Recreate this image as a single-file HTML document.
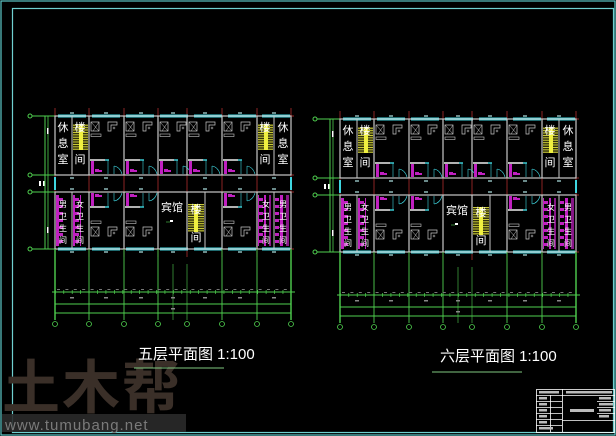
<!DOCTYPE html>
<html><head><meta charset="utf-8">
<style>
html,body{margin:0;padding:0;background:#000;}
svg{display:block;}
text{font-family:"Liberation Sans","Noto Sans CJK SC",sans-serif;}
</style></head>
<body>
<svg width="616" height="436" viewBox="0 0 616 436" xmlns="http://www.w3.org/2000/svg" xmlns:xlink="http://www.w3.org/1999/xlink">
<defs>
<pattern id="st" width="4" height="2.4" patternUnits="userSpaceOnUse"><rect width="4" height="2.4" fill="rgba(240,240,64,0.2)"/><line x1="0" y1="0.4" x2="4" y2="0.4" stroke="#f0f040" stroke-width="0.8"/></pattern>
<pattern id="tl" width="8" height="7" patternUnits="userSpaceOnUse"><rect x="0" y="0" width="3" height="7" fill="#c020c0"/><rect x="3" y="2" width="4" height="3" fill="#c020c0"/></pattern>

<g id="rt" fill="none">
<rect x="2" y="161" width="3" height="13" fill="#c020c0"/>
<rect x="6" y="169" width="4" height="3" fill="#c020c0"/><rect x="10" y="170" width="3" height="2" fill="#c020c0"/>
<line x1="1" y1="160" x2="16" y2="160" stroke="#fff" stroke-width="1.4"/>
<line x1="16" y1="160" x2="20" y2="160" stroke="#3fd6e0" stroke-width="1.4"/>
<line x1="19" y1="160" x2="19" y2="174" stroke="#3fd6e0" stroke-width="0.6"/>
<path d="M33,174 q-2,-7 -8,-8 M25,174 l0,-8" stroke="#3fd6e0" stroke-width="0.6"/>
<rect x="2" y="122" width="8" height="9" stroke="#c8c8c8" stroke-width="0.7"/>
<path d="M2,122 L10,131 M10,122 L4,131" stroke="#c8c8c8" stroke-width="0.5"/>
<path d="M19,131 v-9 h9 v3 h-6 v6 z" stroke="#c8c8c8" stroke-width="0.7"/>
<circle cx="25" cy="128" r="1" stroke="#c8c8c8" stroke-width="0.5"/>
<rect x="2" y="134" width="10" height="2.5" stroke="#c8c8c8" stroke-width="0.6"/>
</g>
<g id="rb" fill="none">
<rect x="2" y="193" width="3" height="13" fill="#c020c0"/>
<rect x="6" y="194" width="4" height="3" fill="#c020c0"/><rect x="10" y="195" width="3" height="2" fill="#c020c0"/>
<line x1="1" y1="207" x2="16" y2="207" stroke="#fff" stroke-width="1.4"/>
<line x1="16" y1="207" x2="20" y2="207" stroke="#3fd6e0" stroke-width="1.4"/>
<line x1="19" y1="193" x2="19" y2="207" stroke="#3fd6e0" stroke-width="0.6"/>
<path d="M33,193 q-2,7 -8,8 M25,193 l0,8" stroke="#3fd6e0" stroke-width="0.6"/>
<rect x="2" y="227" width="8" height="9" stroke="#c8c8c8" stroke-width="0.7"/>
<path d="M2,227 L10,236 M10,227 L4,236" stroke="#c8c8c8" stroke-width="0.5"/>
<path d="M19,236 v-9 h9 v3 h-6 v6 z" stroke="#c8c8c8" stroke-width="0.7"/>
<circle cx="25" cy="233" r="1" stroke="#c8c8c8" stroke-width="0.5"/>
<rect x="2" y="221" width="10" height="2.5" stroke="#c8c8c8" stroke-width="0.6"/>
</g>

<g id="plan">
<!-- green axis extensions -->
<g stroke="#4fd04f" fill="none" stroke-width="1">
<line x1="32" y1="116" x2="55" y2="116"/><line x1="32" y1="175" x2="55" y2="175"/>
<line x1="32" y1="192" x2="55" y2="192"/><line x1="32" y1="249" x2="55" y2="249"/>
<circle cx="30" cy="116" r="2"/><circle cx="30" cy="175" r="2"/><circle cx="30" cy="192" r="2"/><circle cx="30" cy="249" r="2"/>
<line x1="45" y1="116" x2="45" y2="249"/><line x1="48" y1="116" x2="48" y2="249" stroke-width="0.8"/>
</g>
<g fill="#fff"><rect x="47" y="128" width="1.5" height="6"/><rect x="47" y="227" width="1.5" height="6"/><rect x="39" y="181" width="2" height="5"/><rect x="43" y="181" width="1.5" height="5"/></g>
<!-- red axes -->
<g stroke="#c83232" stroke-width="0.7">
<line x1="55" y1="116" x2="294" y2="116"/><line x1="55" y1="175" x2="294" y2="175"/>
<line x1="55" y1="192" x2="294" y2="192"/><line x1="55" y1="249" x2="294" y2="249"/>
<path d="M55,108V257M89,108V257M124,108V257M158,108V257M187,108V257M222,108V257M257,108V257M291,108V257"/>
</g>
<!-- windows -->
<g stroke="#3fd6e0" stroke-width="3" stroke-dasharray="28 6">
<line x1="58" y1="116" x2="291" y2="116"/><line x1="58" y1="249" x2="291" y2="249"/>
</g>
<rect x="54" y="177" width="2" height="13" fill="#3fd6e0"/><rect x="290" y="177" width="2" height="13" fill="#3fd6e0"/>
<!-- walls -->
<g stroke="#c8c8c8" stroke-width="1.2" fill="none">
<rect x="55" y="116" width="236" height="59"/><rect x="55" y="192" width="236" height="57"/>
<path d="M89,116V175M124,116V175M158,116V175M187,116V175M222,116V175M257,116V175"/>
<path d="M89,192V249M124,192V249M158,192V249M187,192V249M222,192V249M257,192V249"/>
<path d="M72,116V175M274,116V175M72,192V249M274,192V249M205,192V249" stroke-width="1"/>
</g>
<g fill="#6a8a8a">
<rect x="70" y="112" width="4" height="2"/><rect x="104" y="112" width="4" height="2"/><rect x="139" y="112" width="4" height="2"/><rect x="171" y="112" width="4" height="2"/><rect x="203" y="112" width="4" height="2"/><rect x="238" y="112" width="4" height="2"/><rect x="272" y="112" width="4" height="2"/>
<rect x="70" y="251" width="4" height="2"/><rect x="104" y="251" width="4" height="2"/><rect x="139" y="251" width="4" height="2"/><rect x="171" y="251" width="4" height="2"/><rect x="203" y="251" width="4" height="2"/><rect x="238" y="251" width="4" height="2"/><rect x="272" y="251" width="4" height="2"/>
<rect x="70" y="177" width="4" height="2"/><rect x="104" y="177" width="4" height="2"/><rect x="139" y="177" width="4" height="2"/><rect x="203" y="177" width="4" height="2"/><rect x="238" y="177" width="4" height="2"/><rect x="272" y="177" width="4" height="2"/>
<rect x="70" y="188" width="4" height="2"/><rect x="104" y="188" width="4" height="2"/><rect x="139" y="188" width="4" height="2"/><rect x="203" y="188" width="4" height="2"/><rect x="238" y="188" width="4" height="2"/><rect x="272" y="188" width="4" height="2"/>
</g>
<!-- stairs -->
<rect x="73" y="124" width="15" height="26" fill="url(#st)"/><rect x="79" y="124" width="4" height="26" fill="#f0f040"/>
<rect x="258" y="124" width="15" height="26" fill="url(#st)"/><rect x="264" y="124" width="4" height="26" fill="#f0f040"/>
<rect x="188" y="204" width="16" height="28" fill="url(#st)"/><rect x="194" y="204" width="4" height="28" fill="#f0f040"/>
<!-- toilets -->
<rect x="56" y="195" width="8" height="51" fill="url(#tl)"/>
<rect x="73" y="195" width="8" height="51" fill="url(#tl)"/>
<rect x="258" y="195" width="8" height="51" fill="url(#tl)"/>
<rect x="275" y="195" width="8" height="51" fill="url(#tl)"/>
<rect x="286" y="195" width="3" height="51" fill="#c020c0" opacity="0.7"/>
<rect x="269" y="195" width="2" height="51" fill="#c020c0" opacity="0.7"/>
<!-- rooms -->
<use xlink:href="#rt" x="89"/><use xlink:href="#rt" x="124"/><use xlink:href="#rt" x="158" transform="scale(1,1)"/>
<use xlink:href="#rt" x="187"/><use xlink:href="#rt" x="222"/>
<use xlink:href="#rb" x="89"/><use xlink:href="#rb" x="124"/><use xlink:href="#rb" x="222"/>
<rect x="170" y="220" width="3" height="2" fill="#fff"/><line x1="166" y1="222" x2="170" y2="222" stroke="#4fd04f" stroke-width="0.6"/>
<!-- dimensions -->
<g stroke="#4fd04f" fill="none">
<path d="M55,249V320M291,249V320" stroke-width="1.4"/>
<path d="M89,249V320M124,249V320M158,249V320M222,249V320M257,249V320" stroke-width="0.9"/>
<path d="M173,264V320M187,264V320" stroke-width="0.6"/>
<line x1="52" y1="292" x2="295" y2="292" stroke-width="1"/>
<line x1="55" y1="292" x2="291" y2="292" stroke-width="4" stroke-dasharray="0.7 7.73"/>
<line x1="55" y1="304" x2="291" y2="304" stroke-width="1"/>
<line x1="55" y1="313" x2="291" y2="313" stroke-width="1"/>
<g stroke-width="0.8">
<circle cx="55" cy="324" r="2.5"/><circle cx="89" cy="324" r="2.5"/><circle cx="124" cy="324" r="2.5"/><circle cx="158" cy="324" r="2.5"/><circle cx="187" cy="324" r="2.5"/><circle cx="222" cy="324" r="2.5"/><circle cx="257" cy="324" r="2.5"/><circle cx="291" cy="324" r="2.5"/>
</g>
</g>
<line x1="57" y1="289.5" x2="291" y2="289.5" stroke="#777" stroke-width="1" stroke-dasharray="3 5.4"/>
<g fill="#888"><rect x="70" y="297" width="4" height="1.5"/><rect x="104" y="297" width="4" height="1.5"/><rect x="139" y="297" width="4" height="1.5"/><rect x="171" y="297" width="4" height="1.5"/><rect x="203" y="297" width="4" height="1.5"/><rect x="238" y="297" width="4" height="1.5"/><rect x="272" y="297" width="4" height="1.5"/><rect x="171" y="308" width="4" height="1.5"/></g>
</g>
</defs>

<rect width="616" height="436" fill="#000"/>
<rect x="1" y="1" width="614" height="434" fill="none" stroke="#5cc8c8" stroke-width="1.2"/>
<rect x="12.5" y="8.5" width="601" height="424" fill="none" stroke="#6fd0d0" stroke-width="1.2"/>

<use xlink:href="#plan"/>
<use xlink:href="#plan" transform="translate(285,3)"/>

<!-- watermark -->
<text x="2" y="408" font-size="58" font-weight="bold" fill="#3a2f28" letter-spacing="2">土木帮</text>
<rect x="2" y="414" width="184" height="18" fill="#2a2a2a" opacity="0.9"/>
<text x="5" y="430" font-size="15" fill="#7a7a7a" font-family="Liberation Mono,monospace" letter-spacing="1">www.tumubang.net</text>

<!-- left plan text -->
<g fill="#fff" font-size="11" text-anchor="middle">
<text x="63" y="131">休</text><text x="63" y="147">息</text><text x="63" y="163">室</text>
<text x="283" y="131">休</text><text x="283" y="147">息</text><text x="283" y="163">室</text>
<text x="80" y="131">楼</text><text x="80" y="163">间</text>
<text x="265" y="131">楼</text><text x="265" y="163">间</text>
<text x="196" y="213">楼</text><text x="196" y="241">间</text>
<text x="172" y="211">宾馆</text>
</g>
<g fill="#fff" font-size="8" text-anchor="middle">
<text x="63" y="207">男</text><text x="63" y="219">卫</text><text x="63" y="231">生</text><text x="63" y="243">间</text>
<text x="80" y="207">女</text><text x="80" y="219">卫</text><text x="80" y="231">生</text><text x="80" y="243">间</text>
<text x="266" y="207">女</text><text x="266" y="219">卫</text><text x="266" y="231">生</text><text x="266" y="243">间</text>
<text x="283" y="207">男</text><text x="283" y="219">卫</text><text x="283" y="231">生</text><text x="283" y="243">间</text>
</g>
<!-- right plan text -->
<g fill="#fff" font-size="11" text-anchor="middle">
<text x="348" y="134">休</text><text x="348" y="150">息</text><text x="348" y="166">室</text>
<text x="568" y="134">休</text><text x="568" y="150">息</text><text x="568" y="166">室</text>
<text x="365" y="134">楼</text><text x="365" y="166">间</text>
<text x="550" y="134">楼</text><text x="550" y="166">间</text>
<text x="481" y="216">楼</text><text x="481" y="244">间</text>
<text x="457" y="214">宾馆</text>
</g>
<g fill="#fff" font-size="8" text-anchor="middle">
<text x="348" y="210">男</text><text x="348" y="222">卫</text><text x="348" y="234">生</text><text x="348" y="246">间</text>
<text x="365" y="210">女</text><text x="365" y="222">卫</text><text x="365" y="234">生</text><text x="365" y="246">间</text>
<text x="551" y="210">女</text><text x="551" y="222">卫</text><text x="551" y="234">生</text><text x="551" y="246">间</text>
<text x="568" y="210">男</text><text x="568" y="222">卫</text><text x="568" y="234">生</text><text x="568" y="246">间</text>
</g>

<!-- titles -->
<text x="138" y="359" font-size="15" fill="#fff">五层平面图 1:100</text>
<line x1="134" y1="368" x2="224" y2="368" stroke="#7fc87f" stroke-width="1"/>
<text x="440" y="361" font-size="15" fill="#fff">六层平面图 1:100</text>
<line x1="432" y1="372" x2="522" y2="372" stroke="#7fc87f" stroke-width="1"/>

<!-- title block -->
<g stroke="#fff" stroke-width="0.8" fill="none">
<rect x="536.5" y="389.5" width="78" height="43"/>
<line x1="536" y1="395.5" x2="615" y2="395.5"/>
<line x1="562.5" y1="389" x2="562.5" y2="432"/>
<line x1="550.5" y1="395" x2="550.5" y2="432"/>
<line x1="536" y1="401.5" x2="562" y2="401.5"/>
<line x1="536" y1="407.5" x2="562" y2="407.5"/>
<line x1="536" y1="413.5" x2="562" y2="413.5"/>
<line x1="536" y1="419.5" x2="562" y2="419.5"/>
<line x1="536" y1="425.5" x2="562" y2="425.5"/>
<line x1="562" y1="420.5" x2="615" y2="420.5"/>
<line x1="597" y1="401.5" x2="615" y2="401.5"/>
<line x1="597" y1="407.5" x2="615" y2="407.5"/>
<line x1="597" y1="413.5" x2="615" y2="413.5"/>
</g>
<g fill="#bbb">
<rect x="539" y="391" width="20" height="2.5"/><rect x="566" y="391" width="46" height="2.5"/>
<rect x="539" y="397" width="8" height="2.5"/><rect x="539" y="403" width="8" height="2.5"/>
<rect x="539" y="409" width="8" height="2.5"/><rect x="539" y="415" width="8" height="2.5"/>
<rect x="539" y="421" width="8" height="2.5"/><rect x="539" y="427" width="14" height="2.5"/>
<rect x="570" y="409" width="24" height="3"/><rect x="599" y="397" width="12" height="2.5"/>
<rect x="599" y="403" width="14" height="2.5"/><rect x="599" y="409" width="12" height="2.5"/>
<rect x="599" y="415" width="10" height="2.5"/>
</g>
</svg>
</body></html>
